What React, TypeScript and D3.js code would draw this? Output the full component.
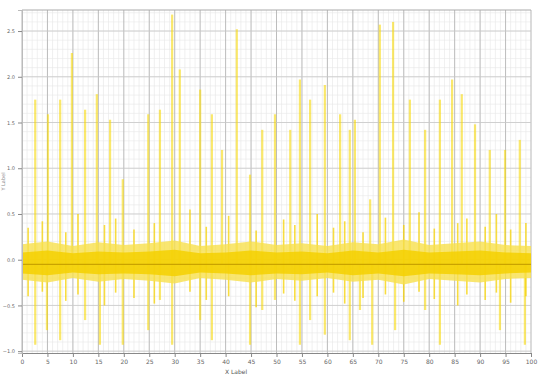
import React, { useEffect, useRef } from 'react'
import * as d3 from 'd3'

// tick labels
const xTickValues = [0, 5, 10, 15, 20, 25, 30, 35, 40, 45, 50, 55, 60, 65, 70, 75, 80, 85, 90, 95, 100]
const yTickValues = [-1.0, -0.5, 0.0, 0.5, 1.0, 1.5, 2.0, 2.5]

// noise band envelope, read every 5 units along x
const bandX = [0, 5, 10, 15, 20, 25, 30, 35, 40, 45, 50, 55, 60, 65, 70, 75, 80, 85, 90, 95, 100]
const bandHigh = [0.17, 0.2, 0.15, 0.19, 0.16, 0.18, 0.21, 0.15, 0.17, 0.2, 0.16, 0.18, 0.15, 0.19, 0.17, 0.22, 0.16, 0.18, 0.2, 0.16, 0.15]
const bandLow = [-0.22, -0.25, -0.2, -0.24, -0.21, -0.23, -0.26, -0.2, -0.22, -0.25, -0.21, -0.23, -0.2, -0.24, -0.22, -0.27, -0.21, -0.23, -0.25, -0.21, -0.2]
const coreHigh = [0.08, 0.1, 0.07, 0.09, 0.08, 0.09, 0.11, 0.07, 0.08, 0.1, 0.08, 0.09, 0.07, 0.1, 0.08, 0.11, 0.08, 0.09, 0.1, 0.08, 0.07]
const coreLow = [-0.15, -0.17, -0.14, -0.16, -0.15, -0.16, -0.18, -0.14, -0.15, -0.17, -0.15, -0.16, -0.14, -0.17, -0.15, -0.18, -0.15, -0.16, -0.17, -0.15, -0.14]
const baseline = -0.05

// big upward spikes
const spikeX = [2.6, 5.1, 7.5, 9.8, 12.4, 14.7, 17.3, 19.8, 24.8, 27.1, 29.5, 31.0, 35.0, 37.3, 39.3, 42.2, 44.8, 47.2, 49.7, 52.7, 54.6, 56.6, 59.5, 62.5, 64.4, 65.4, 68.4, 70.3, 72.9, 76.2, 79.2, 82.1, 84.5, 86.4, 89.0, 91.9, 94.9, 97.8]
const spikeHigh = [1.75, 1.59, 1.75, 2.26, 1.64, 1.81, 1.53, 0.88, 1.59, 1.64, 2.68, 2.08, 1.86, 1.59, 1.2, 2.52, 0.93, 1.42, 1.59, 1.42, 1.97, 1.75, 1.91, 1.59, 1.42, 1.53, 0.66, 2.57, 2.6, 1.75, 1.42, 1.75, 1.97, 1.81, 1.48, 1.2, 1.2, 1.31]

// big downward spikes
const dipX = [2.6, 4.9, 7.5, 12.4, 15.3, 19.8, 24.8, 27.1, 29.5, 35.0, 37.3, 44.8, 47.2, 49.7, 54.6, 56.6, 59.5, 64.4, 66.4, 68.8, 73.3, 79.2, 82.1, 93.9, 98.8]
const dipLow = [-0.93, -0.77, -0.88, -0.66, -0.93, -0.93, -0.77, -0.44, -0.93, -0.66, -0.88, -0.93, -0.55, -0.44, -0.93, -0.66, -0.82, -0.88, -0.55, -0.93, -0.77, -0.55, -0.93, -0.77, -0.93]

// medium spikes sticking out of the band
const minorX = [1.2, 4.0, 8.6, 11.0, 16.2, 18.4, 22.0, 26.0, 33.0, 36.2, 40.6, 46.0, 51.4, 53.6, 58.0, 61.2, 63.4, 67.0, 71.4, 75.0, 78.0, 81.0, 85.6, 87.4, 91.0, 93.2, 96.0, 99.0]
const minorHigh = [0.35, 0.42, 0.3, 0.5, 0.38, 0.45, 0.33, 0.4, 0.55, 0.36, 0.48, 0.32, 0.44, 0.38, 0.5, 0.35, 0.42, 0.3, 0.46, 0.38, 0.52, 0.34, 0.4, 0.45, 0.36, 0.5, 0.33, 0.4]
const minorLow = [-0.4, -0.35, -0.45, -0.38, -0.5, -0.36, -0.42, -0.48, -0.35, -0.44, -0.4, -0.52, -0.37, -0.45, -0.4, -0.36, -0.48, -0.42, -0.38, -0.46, -0.35, -0.43, -0.5, -0.38, -0.44, -0.36, -0.47, -0.4]

const W = 538
const H = 379
const margin = { top: 10, right: 7, bottom: 26, left: 22 }

const App: React.FC = () => {
  const svgRef = useRef<SVGSVGElement>(null)

  useEffect(() => {
    if (!svgRef.current) return
    const svg = d3.select(svgRef.current)
    svg.selectAll('*').remove()

    const x = d3.scaleLinear().domain([0, 100]).range([margin.left, W - margin.right])
    const y = d3.scaleLinear().domain([-1.02, 2.73]).range([H - margin.bottom, margin.top])

    const g = svg.append('g')

    // minor grid
    g.append('g')
      .selectAll('line')
      .data(d3.range(0, 101, 1))
      .join('line')
      .attr('x1', (d) => x(d))
      .attr('x2', (d) => x(d))
      .attr('y1', margin.top)
      .attr('y2', H - margin.bottom)
      .attr('stroke', '#e6e6e6')
      .attr('stroke-width', 0.6)
    g.append('g')
      .selectAll('line')
      .data(d3.range(-1.0, 2.71, 0.1))
      .join('line')
      .attr('x1', margin.left)
      .attr('x2', W - margin.right)
      .attr('y1', (d) => y(d))
      .attr('y2', (d) => y(d))
      .attr('stroke', '#e8e8e8')
      .attr('stroke-width', 0.6)

    // major grid
    g.append('g')
      .selectAll('line')
      .data(xTickValues)
      .join('line')
      .attr('x1', (d) => x(d))
      .attr('x2', (d) => x(d))
      .attr('y1', margin.top)
      .attr('y2', H - margin.bottom)
      .attr('stroke', '#b0b0b0')
      .attr('stroke-width', 0.8)
    g.append('g')
      .selectAll('line')
      .data(yTickValues)
      .join('line')
      .attr('x1', margin.left)
      .attr('x2', W - margin.right)
      .attr('y1', (d) => y(d))
      .attr('y2', (d) => y(d))
      .attr('stroke', '#c8c8c8')
      .attr('stroke-width', 0.8)

    // top border
    g.append('line')
      .attr('x1', margin.left)
      .attr('x2', W - margin.right)
      .attr('y1', margin.top)
      .attr('y2', margin.top)
      .attr('stroke', '#aaa')

    const yellow = '#f6d80a'

    // big spikes
    g.append('g')
      .selectAll('line')
      .data(spikeX.map((v, i) => ({ x: v, hi: spikeHigh[i] })))
      .join('line')
      .attr('x1', (d) => x(d.x))
      .attr('x2', (d) => x(d.x))
      .attr('y1', y(baseline))
      .attr('y2', (d) => y(d.hi))
      .attr('stroke', yellow)
      .attr('stroke-opacity', 0.6)
      .attr('stroke-width', 2.2)
    g.append('g')
      .selectAll('line')
      .data(dipX.map((v, i) => ({ x: v, lo: dipLow[i] })))
      .join('line')
      .attr('x1', (d) => x(d.x))
      .attr('x2', (d) => x(d.x))
      .attr('y1', y(baseline))
      .attr('y2', (d) => y(d.lo))
      .attr('stroke', yellow)
      .attr('stroke-opacity', 0.6)
      .attr('stroke-width', 2.2)

    // medium spikes
    g.append('g')
      .selectAll('line')
      .data(minorX.map((v, i) => ({ x: v, hi: minorHigh[i], lo: minorLow[i] })))
      .join('line')
      .attr('x1', (d) => x(d.x))
      .attr('x2', (d) => x(d.x))
      .attr('y1', (d) => y(d.lo))
      .attr('y2', (d) => y(d.hi))
      .attr('stroke', '#f5d200')
      .attr('stroke-opacity', 0.75)
      .attr('stroke-width', 1.6)

    // noise band
    const bandData = bandX.map((v, i) => ({ x: v, hi: bandHigh[i], lo: bandLow[i], ch: coreHigh[i], cl: coreLow[i] }))
    g.append('path')
      .datum(bandData)
      .attr(
        'd',
        d3
          .area<(typeof bandData)[number]>()
          .x((d) => x(d.x))
          .y0((d) => y(d.lo))
          .y1((d) => y(d.hi))
      )
      .attr('fill', '#f8e04c')
      .attr('fill-opacity', 0.8)
    g.append('path')
      .datum(bandData)
      .attr(
        'd',
        d3
          .area<(typeof bandData)[number]>()
          .x((d) => x(d.x))
          .y0((d) => y(d.cl))
          .y1((d) => y(d.ch))
      )
      .attr('fill', '#f5d000')
      .attr('fill-opacity', 0.85)
    g.append('line')
      .attr('x1', x(0))
      .attr('x2', x(100))
      .attr('y1', y(baseline))
      .attr('y2', y(baseline))
      .attr('stroke', '#caa300')
      .attr('stroke-width', 1.2)

    // axes
    const xAxis = g
      .append('g')
      .attr('transform', `translate(0,${H - margin.bottom})`)
      .call(
        d3
          .axisBottom(x)
          .tickValues(xTickValues)
          .tickSize(4)
          .tickFormat((d) => String(d))
      )
    xAxis.select('.domain').attr('stroke', '#888')
    xAxis.selectAll('line').attr('stroke', '#888')
    xAxis.selectAll('text').attr('fill', '#666').attr('font-size', 6).attr('font-family', 'DejaVu Sans')

    const yAxis = g
      .append('g')
      .attr('transform', `translate(${margin.left},0)`)
      .call(
        d3
          .axisLeft(y)
          .tickValues(yTickValues)
          .tickSize(4)
          .tickFormat(d3.format('.1f'))
      )
    yAxis.select('.domain').attr('stroke', '#bbb')
    yAxis.selectAll('line').attr('stroke', '#888')
    yAxis.selectAll('text').attr('fill', '#666').attr('font-size', 5).attr('font-family', 'DejaVu Sans')

    svg
      .append('text')
      .attr('x', 236)
      .attr('y', 374)
      .attr('text-anchor', 'middle')
      .attr('font-size', 6)
      .attr('font-family', 'DejaVu Sans')
      .attr('fill', '#555')
      .text('X Label')
    svg
      .append('text')
      .attr('transform', `translate(5,${(margin.top + H - margin.bottom) / 2}) rotate(-90)`)
      .attr('text-anchor', 'middle')
      .attr('font-size', 5)
      .attr('font-family', 'DejaVu Sans')
      .attr('fill', '#888')
      .text('Y Label')
  }, [])

  return (
    <svg
      ref={svgRef}
      width={W}
      height={H}
      style={{ position: 'absolute', left: 0, top: 0, background: '#fff' }}
    />
  )
}

export default App
